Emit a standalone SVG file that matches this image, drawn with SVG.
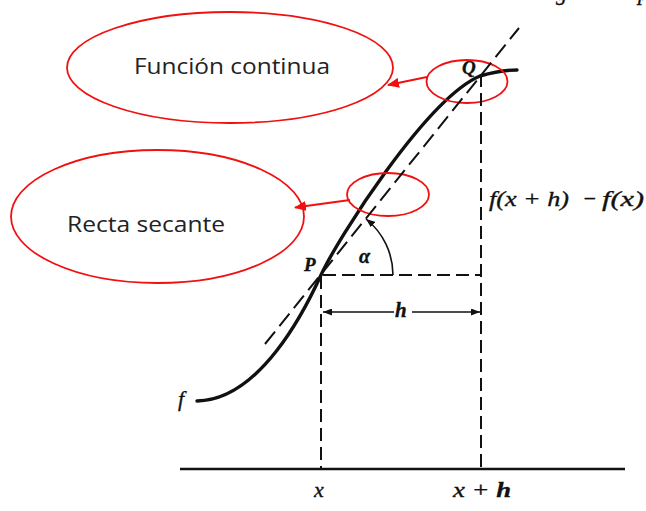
<svg xmlns="http://www.w3.org/2000/svg" width="646" height="511" viewBox="0 0 646 511">
<style>
.red{fill:none;stroke:#f01010;stroke-width:1.8}
.lbl{font-family:"Open Sans","Liberation Sans",sans-serif;font-size:22px;fill:#222}
.m{font-family:"Liberation Serif","Times New Roman",serif;font-style:italic;fill:#111;stroke:#111;stroke-width:0.35}
.b{font-weight:bold}
.dash{fill:none;stroke:#111;stroke-width:2;stroke-dasharray:13 6}
.sec{fill:none;stroke:#111;stroke-width:2;stroke-dasharray:16 7}
.thin{fill:none;stroke:#111;stroke-width:1.6}
</style>
<defs>
<marker id="ra" markerWidth="12" markerHeight="10" refX="11" refY="5" orient="auto" markerUnits="userSpaceOnUse">
<path d="M0,0 L12,5 L0,10 Z" fill="#f01010"/>
</marker>
<marker id="ba" markerWidth="9" markerHeight="7" refX="9" refY="3.5" orient="auto" markerUnits="userSpaceOnUse">
<path d="M0,0 L9,3.5 L0,7 Z" fill="#111"/>
</marker>
</defs>
<rect width="646" height="511" fill="#fff"/>
<text class="m" x="556" y="0" font-size="22">g</text>
<text class="m" x="638" y="0" font-size="22">p</text>

<g id="axis">
<line x1="180" y1="469" x2="625" y2="469" stroke="#111" stroke-width="2.6"/>
</g>

<g id="curve">
<path d="M197,401 C260,400 305,310 321,275 C337,240 426,99 480,76 C497,71 507,70 517,70" fill="none" stroke="#111" stroke-width="3.4" stroke-linecap="round"/>
<text class="m" x="178" y="406" font-size="22">f</text>
</g>

<g id="point-P">
<text class="m b" x="304" y="271" font-size="19">P</text>
</g>
<g id="point-Q">
<text class="m b" x="462" y="74" font-size="19">Q</text>
</g>

<g id="label-funcion">
<ellipse class="red" cx="230" cy="67.5" rx="163" ry="55.5"/>
<text class="lbl" x="134" y="74" textLength="196" lengthAdjust="spacingAndGlyphs">Función continua</text>
</g>
<g id="label-recta">
<ellipse class="red" cx="157.5" cy="216.5" rx="146.5" ry="66.5"/>
<text class="lbl" x="67" y="232" textLength="158" lengthAdjust="spacingAndGlyphs">Recta secante</text>
</g>
<g id="circle-Q">
<ellipse class="red" cx="467" cy="81.5" rx="40.5" ry="21.5"/>
</g>
<g id="circle-secant">
<ellipse class="red" cx="388" cy="194.5" rx="41" ry="21.5"/>
</g>

<g id="connectors">
<line class="red" x1="427" y1="77" x2="388" y2="85" marker-end="url(#ra)"/>
<line class="red" x1="350" y1="200" x2="295" y2="207.5" marker-end="url(#ra)"/>
<line class="sec" x1="265" y1="344" x2="519" y2="28"/>
<line class="dash" x1="321" y1="276" x2="321" y2="469"/>
<line class="dash" x1="481" y1="74" x2="481" y2="469"/>
<line class="dash" x1="323" y1="275" x2="481" y2="275"/>
<path class="thin" d="M393,275 A72,72 0 0 0 366,219" marker-end="url(#ba)"/>
<line class="thin" x1="394" y1="312" x2="323" y2="312" marker-end="url(#ba)"/>
<line class="thin" x1="412" y1="312" x2="480" y2="312" marker-end="url(#ba)"/>
</g>

<g id="labels">
<text class="m b" x="359" y="263" font-size="20">α</text>
<text class="m b" x="395" y="317" font-size="21">h</text>
<text class="m" x="489" y="206" font-size="22" textLength="80" lengthAdjust="spacingAndGlyphs">f(x + h)</text>
<text class="m" x="582" y="206" font-size="22">−</text>
<text class="m" x="602" y="206" font-size="22" textLength="42" lengthAdjust="spacingAndGlyphs">f(x)</text>
<text class="m" x="314" y="497" font-size="22">x</text>
<text class="m" x="453" y="497" font-size="22" textLength="58" lengthAdjust="spacingAndGlyphs">x + <tspan class="b">h</tspan></text>
</g>
</svg>
